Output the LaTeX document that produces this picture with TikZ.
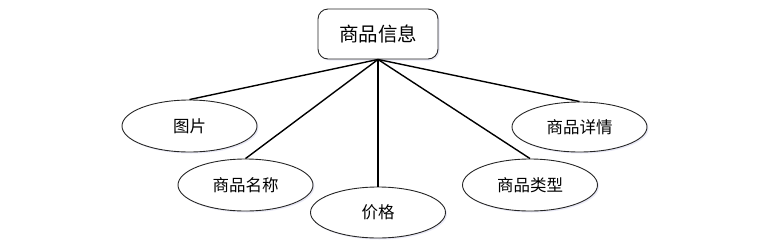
\documentclass[tikz,border=0pt]{standalone}
\usepackage{fontspec}
\newfontfamily\cjk{Noto Sans CJK SC}
\usetikzlibrary{shapes.geometric,shadows}
\begin{document}
\begin{tikzpicture}[x=1pt,y=-1pt,
  attr/.style={ellipse,draw=black!85,line width=0.9pt,fill=white,minimum width=135pt,minimum height=52pt,inner sep=0pt,font=\cjk\fontsize{16.5}{18}\selectfont,
    drop shadow={opacity=0.12,shadow xshift=1.5pt,shadow yshift=-1.5pt,fill=blue!40!gray}},
  ent/.style={rectangle,rounded corners=10pt,draw=black!85,line width=0.9pt,fill=white,minimum width=120pt,minimum height=50pt,inner sep=0pt,font=\cjk\fontsize{19.5}{22}\selectfont,
    drop shadow={opacity=0.12,shadow xshift=1.5pt,shadow yshift=-1.5pt,fill=blue!40!gray}},
  link/.style={line width=1.4pt,black}]
\useasboundingbox (0,0) rectangle (784,250);
\node[ent] (e) at (378,34) {商品信息};
\node[attr] (a1) at (189.5,126) {图片};
\node[attr] (a2) at (245.5,185) {商品名称};
\node[attr,minimum height=51pt] (a3) at (378,212.5) {价格};
\node[attr] (a4) at (530,185) {商品类型};
\node[attr,minimum height=50pt] (a5) at (579.5,127) {商品详情};
\draw[link] (e.south) -- (a1.north);
\draw[link] (e.south) -- (a2.north);
\draw[link] (e.south) -- (a3.north);
\draw[link] (e.south) -- (a4.north);
\draw[link] (e.south) -- (a5.north);
\end{tikzpicture}
\end{document}
